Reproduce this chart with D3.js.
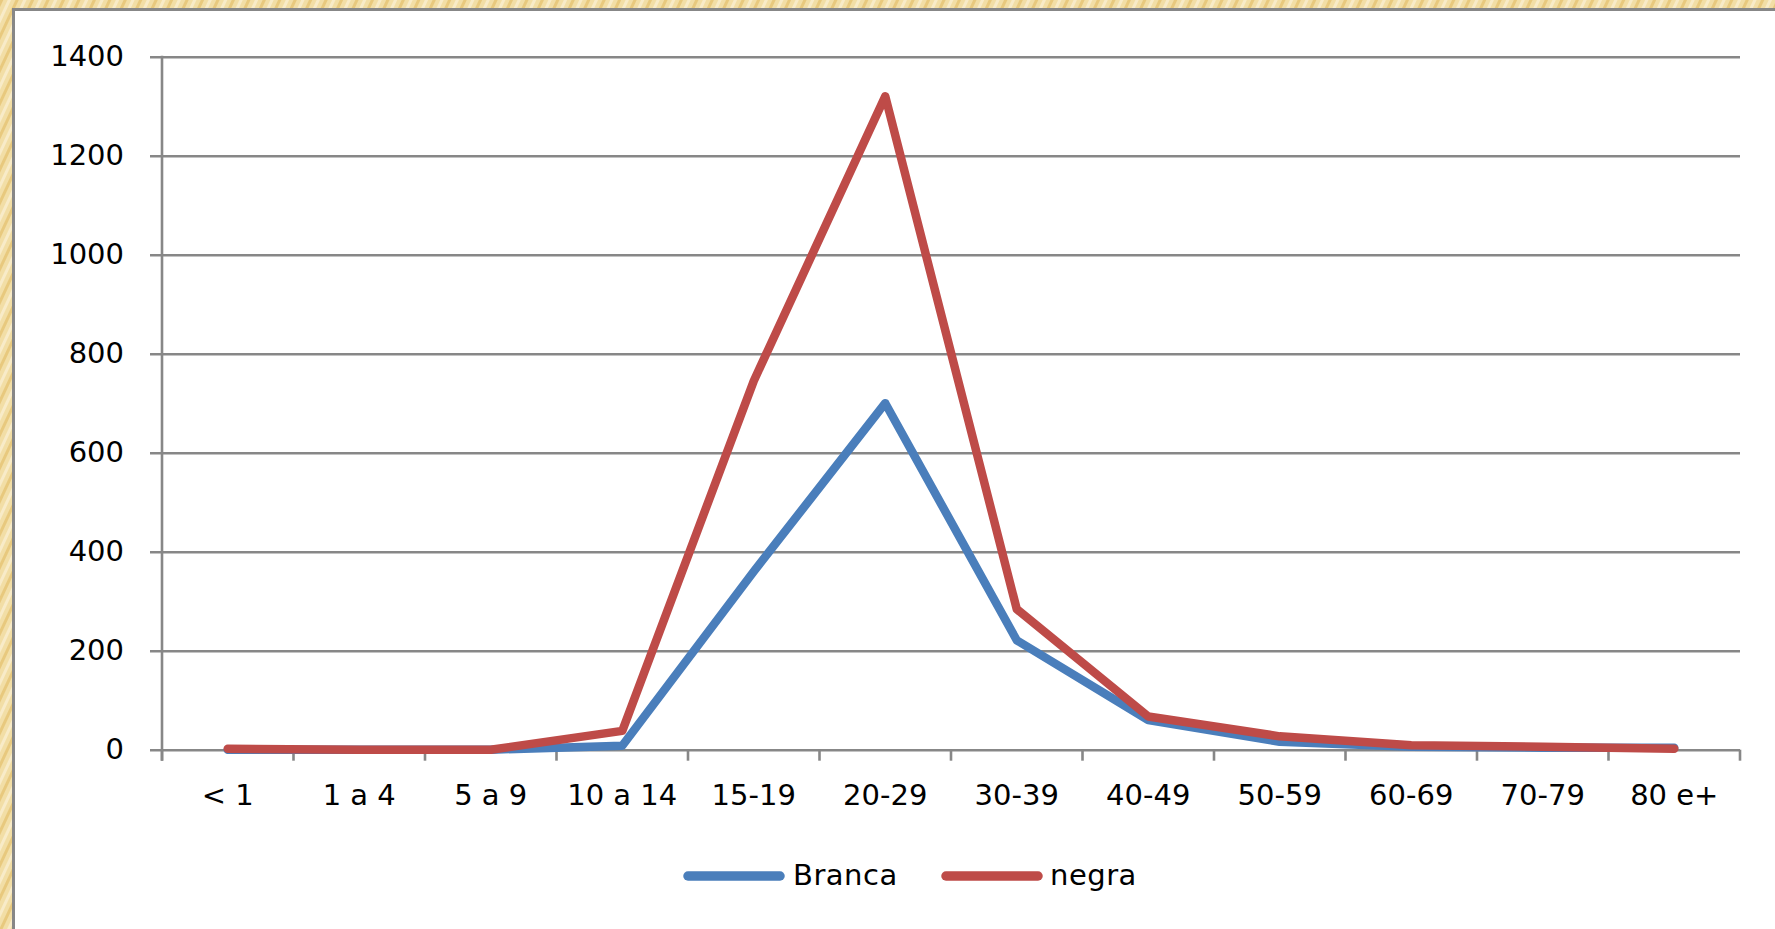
<!DOCTYPE html>
<html>
<head>
<meta charset="utf-8">
<script src="https://cdn.jsdelivr.net/npm/d3@7"></script>
<style>
  html, body { margin: 0; padding: 0; background: #F1DA9E; }
  svg { display: block; }
  text { font-family: "DejaVu Sans", sans-serif; fill: #000; }
</style>
</head>
<body>
<svg id="chart" width="1775" height="929"></svg>
<script>
const categories = ["< 1", "1 a 4", "5 a 9", "10 a 14", "15-19", "20-29", "30-39", "40-49", "50-59", "60-69", "70-79", "80 e+"];
const branca = [0, 0, 0, 8, 360, 700, 221, 60, 16, 6, 4, 4];
const negra  = [2, 0, 0, 38, 745, 1320, 284, 67, 27, 9, 6, 2];
const yTicks = [0, 200, 400, 600, 800, 1000, 1200, 1400];
const seriesNames = ["Branca", "negra"];
const seriesColors = ["#4A7EBB", "#BE4B48"];

const svg = d3.select("#chart");

// textured beige background
const defs = svg.append("defs");
const pat = defs.append("pattern")
  .attr("id", "bgpat").attr("patternUnits", "userSpaceOnUse")
  .attr("width", 14).attr("height", 14)
  .attr("patternTransform", "rotate(25)");
pat.append("rect").attr("width", 14).attr("height", 14).attr("fill", "#F2DEA6");
pat.append("rect").attr("x", 0).attr("width", 3).attr("height", 14).attr("fill", "#E8C97E");
pat.append("rect").attr("x", 7).attr("width", 3).attr("height", 14).attr("fill", "#F8EBC8");
svg.append("rect").attr("width", 1775).attr("height", 929).attr("fill", "url(#bgpat)");

// white chart box with gray border (left/top visible)
svg.append("rect").attr("x", 13.5).attr("y", 9.5).attr("width", 1800).attr("height", 1000)
  .attr("fill", "#fff").attr("stroke", "#878787").attr("stroke-width", 3);

const x0 = 162, x1 = 1740, yTop = 56.7, yBot = 749.7;
const x = d3.scaleBand().domain(categories).range([x0, x1]).padding(0);
const y = d3.scaleLinear().domain([0, 1400]).range([yBot, yTop]);
const cx = c => x(c) + x.bandwidth() / 2;

// y axis with gridlines
const yAxis = d3.axisLeft(y).tickValues(yTicks).tickFormat(d3.format("d"))
  .tickSize(-(x1 - 150)).tickPadding(26);
const gy = svg.append("g").attr("transform", "translate(150,0)").call(yAxis);
gy.select(".domain").remove();
gy.selectAll(".tick line").attr("stroke", "#878787").attr("stroke-width", 2.6);
gy.selectAll(".tick text").attr("font-size", 29).attr("font-family", "DejaVu Sans").attr("fill", "#000");

// vertical axis line
svg.append("line").attr("x1", x0).attr("x2", x0).attr("y1", yTop - 1).attr("y2", yBot + 11)
  .attr("stroke", "#878787").attr("stroke-width", 2.6);

// x axis: labels at category centres, ticks at boundaries
const xAxis = d3.axisBottom(x).tickSize(0).tickPadding(0);
const gx = svg.append("g").attr("transform", `translate(0,${yBot})`).call(xAxis);
gx.select(".domain").remove();
gx.selectAll(".tick text").attr("font-size", 29).attr("font-family", "DejaVu Sans")
  .attr("fill", "#000").attr("dy", null).attr("y", 55);
const bounds = categories.map(c => x(c)).concat([x1]);
svg.append("g").selectAll("line").data(bounds).join("line")
  .attr("x1", d => d).attr("x2", d => d).attr("y1", yBot).attr("y2", yBot + 11)
  .attr("stroke", "#878787").attr("stroke-width", 2.6);

// series lines
const line = d3.line().x((d, i) => cx(categories[i])).y(d => y(d));
[branca, negra].forEach((vals, k) => {
  svg.append("path").datum(vals).attr("d", line)
    .attr("fill", "none").attr("stroke", seriesColors[k]).attr("stroke-width", 8.5)
    .attr("stroke-linejoin", "round").attr("stroke-linecap", "round");
});

// legend
const legendItems = [
  { name: seriesNames[0], color: seriesColors[0], lx: 688, tx: 793 },
  { name: seriesNames[1], color: seriesColors[1], lx: 946, tx: 1050 }
];
const lg = svg.append("g");
legendItems.forEach(it => {
  lg.append("line").attr("x1", it.lx).attr("x2", it.lx + 92).attr("y1", 876).attr("y2", 876)
    .attr("stroke", it.color).attr("stroke-width", 9.5).attr("stroke-linecap", "round");
  lg.append("text").attr("x", it.tx).attr("y", 885).attr("font-size", 29)
    .attr("letter-spacing", 0.5).text(it.name);
});
</script>
</body>
</html>
